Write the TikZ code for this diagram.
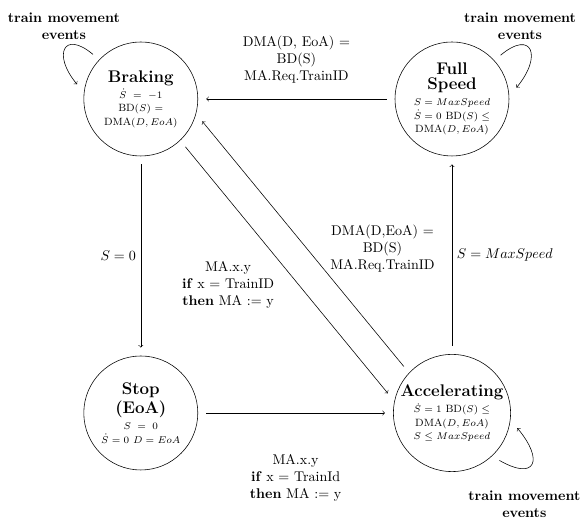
\documentclass[tikz,border=0pt]{standalone}
\usepackage{amsmath}
\usetikzlibrary{positioning}
\newcommand{\statename}[1]{{\large\bfseries #1}}% bold title inside a state
\tikzset{
  trainstate/.style={circle, draw, minimum size=2.85cm, inner sep=0pt, outer sep=6pt,
    align=center, font=\fontsize{7.5}{9.5}\selectfont},
  looplabel/.style={align=center, font=\bfseries},
  guard/.style={align=center}
}

\begin{document}
\begin{tikzpicture}
   \useasboundingbox (0,0) rectangle (14.65,13.025);

   % states
   \node[trainstate] (Braking) at (3.52,10.55) {\statename{Braking}\\[2pt] $\dot{S} \;=\; -1$\\ BD$(S)$ $=$\\ DMA$(D, EoA)$};
   \node[trainstate] (Full) at (11.3,10.55) {\statename{Full}\\[1pt] \statename{Speed}\\[2pt] $S = MaxSpeed$\\ $\dot{S} = 0$ BD$(S) \leq$\\ DMA$(D, EoA)$};
   \node[trainstate] (Stop) at (3.52,2.7) {\statename{Stop}\\[1pt] \statename{(EoA)}\\[2pt] $S \;=\; 0$\\ $\dot{S} = 0$ $D = EoA$};
   \node[trainstate] (Acc) at (11.3,2.7) {\statename{Accelerating}\\[2pt] $\dot{S} = 1$ BD$(S) \leq$\\ DMA$(D, EoA)$\\ $S \leq MaxSpeed$};

   % transitions
   \draw[->] (Full) -- node[guard, above=8pt] {DMA(D, EoA) =\\ BD(S)\\ MA.Req.TrainID} (Braking);
   \draw[->] (Braking) -- node[left] {$S = 0$} (Stop);
   \draw[->] (Stop) -- node[guard, below=26pt] {MA.x.y\\ \textbf{if} x = TrainId\\ \textbf{then} MA := y} (Acc);
   \draw[->] (Acc) -- node[right] {$S = MaxSpeed$} (Full);
   \draw[->] (Braking.-47) -- node[guard, pos=0.56, left=14pt] {MA.x.y\\ \textbf{if} x = TrainID\\ \textbf{then} MA := y} (Acc.163);
   \draw[->] (Acc.136) -- node[guard, pos=0.48, right=13pt] {DMA(D,EoA) =\\ BD(S)\\ MA.Req.TrainID} (Braking.-20);

   % self loops
   \draw[->] (Braking.137) to[out=140, in=130, looseness=2.9] node[looplabel, pos=0.3, above, xshift=-0.2cm] {train movement\\ events} (Braking.167);
   \draw[->] (Full.42) to[out=40, in=50, looseness=2.9] node[looplabel, pos=0.25, above] {train movement\\ events} (Full.10);
   \draw[->] (Acc.-45) to[out=-30, in=-50, looseness=2.9] node[looplabel, pos=0.3, below=12pt] {train movement\\ events} (Acc.-13);
\end{tikzpicture}
\end{document}
